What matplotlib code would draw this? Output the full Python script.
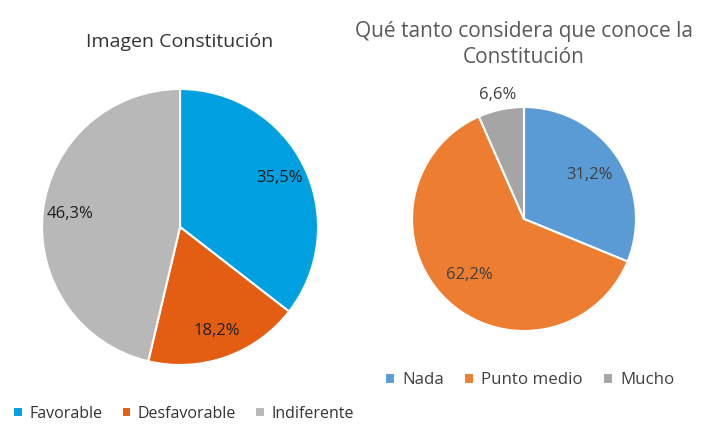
import numpy as np
import matplotlib.pyplot as plt

plt.rcParams['font.family'] = ['Open Sans', 'DejaVu Sans']

# left pie
img_labels = ['Favorable', 'Desfavorable', 'Indiferente']
img_values = [35.5, 18.2, 46.3]
img_colors = ['#00A0E1', '#E35E12', '#B8B8B8']

# right pie
con_labels = ['Nada', 'Punto medio', 'Mucho']
con_values = [31.2, 62.2, 6.6]
con_colors = ['#5B9BD5', '#ED7D31', '#A5A5A5']

fig = plt.figure(figsize=(7.11, 4.38), dpi=100)
fig.patch.set_facecolor('white')


def fmt(v):
    return ('%.1f%%' % v).replace('.', ',')


def draw_pie(ax, values, colors, labels, txt_color, dist, outside=None):
    wedges, texts = ax.pie(values, colors=colors, startangle=90, counterclock=False,
                           labels=[fmt(v) for v in values], labeldistance=dist,
                           wedgeprops=dict(edgecolor='white', linewidth=1.5),
                           textprops=dict(fontsize=12, color=txt_color))
    for t in texts:
        t.set_ha('center')
        t.set_va('center')
        t.set_clip_on(False)
    if outside is not None:
        i, r = outside
        w = wedges[i]
        ang = np.deg2rad((w.theta1 + w.theta2) / 2)
        texts[i].set_position((r * np.cos(ang), r * np.sin(ang)))
    ax.set_xlim(-1, 1)
    ax.set_ylim(-1, 1)
    ax.set_aspect('equal')
    return wedges


ax1 = fig.add_axes([0.0591, 0.1667, 0.3882, 0.6301])
w1 = draw_pie(ax1, img_values, img_colors, img_labels, '#1f1f1f', 0.8)
fig.text(0.2532, 0.903, 'Imagen Constitución', ha='center', va='center',
         fontsize=14, color='#333333')
fig.legend(w1, img_labels, loc='center', bbox_to_anchor=(0.258, 0.055), ncol=3,
           frameon=False, fontsize=11.5, handlelength=0.6, handleheight=0.6,
           handletextpad=0.4, columnspacing=1.2, labelcolor='#333333')

ax2 = fig.add_axes([0.5795, 0.2443, 0.3150, 0.5114])
w2 = draw_pie(ax2, con_values, con_colors, con_labels, '#404040', 0.7, outside=(2, 1.13))
fig.text(0.737, 0.898, 'Qué tanto considera que conoce la\nConstitución', ha='center',
         va='center', fontsize=15, color='#595959', linespacing=1.35)
fig.legend(w2, con_labels, loc='center', bbox_to_anchor=(0.745, 0.132), ncol=3,
           frameon=False, fontsize=12.2, handlelength=0.6, handleheight=0.6,
           handletextpad=0.4, columnspacing=1.2, labelcolor='#404040')

fig.savefig('out.png', dpi=100, facecolor='white')
